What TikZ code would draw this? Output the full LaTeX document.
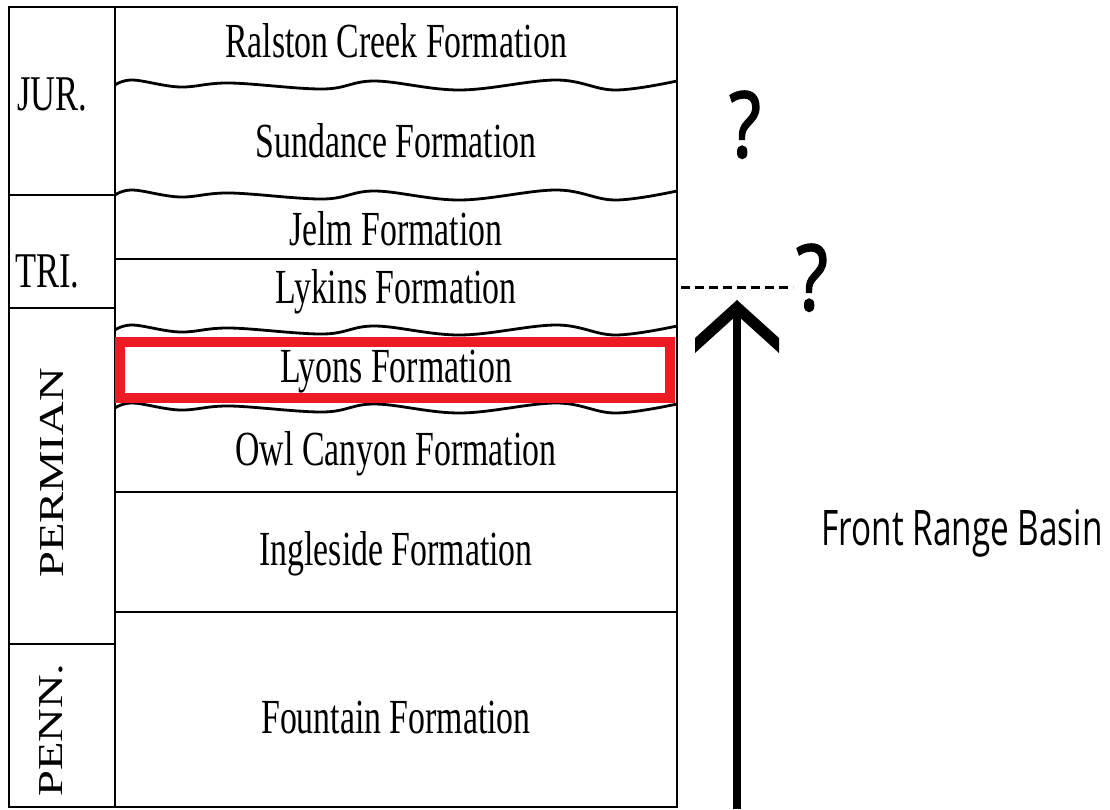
\documentclass[tikz,border=0pt]{standalone}
\usepackage{fontspec}
\newfontfamily\fmfont[FakeStretch=0.69]{Liberation Serif}
\newfontfamily\vertfont[FakeStretch=1.33]{Liberation Serif}
\newfontfamily\basinfont[FakeStretch=0.68]{Open Sans}
\newfontfamily\queryfont[FakeStretch=0.8,FakeBold=2]{Open Sans}
\definecolor{lyonsred}{RGB}{237,28,36}

\begin{document}
\begin{tikzpicture}
    [x=1pt,y=-1pt,
    rule/.style={draw=black,line width=2.8pt},
    formation/.style={inner sep=0pt,anchor=base,
    font=\fmfont\fontsize{49}{50}\selectfont},
    period/.style={inner sep=0pt,anchor=base west,
    font=\fmfont\fontsize{50}{50}\selectfont},
    vperiod/.style={inner sep=0pt,rotate=90,
    font=\vertfont\fontsize{35}{35}\selectfont},
    query/.style={inner sep=0pt,anchor=base,
    font=\queryfont\fontsize{91}{91}\selectfont}]
    \useasboundingbox (0,0) rectangle (1110,809);
    % column frame
    \draw[rule] (9,7) rectangle (677,807);
    \draw[rule] (115,7) -- (115,807);
    \foreach \y in {195,308,644}
        \draw[rule] (9,\y) -- (115,\y);
    \foreach \y in {259,492,612}
        \draw[rule] (115,\y) -- (677,\y);
    % unconformities
    \foreach \y in {85,195,330,408}
        \draw[rule] plot[smooth,tension=0.6] coordinates {(115,\y) (133,\y-5)
        (180,\y+2) (230,\y-2) (323,\y+4) (375,\y-4) (460,\y+5) (556,\y-5)
        (615,\y+5) (677,\y-4)};
    \draw[lyonsred,line width=10pt] (120,342) rectangle (670,398);
    % formations
    \node[formation] (ralston) at (396,57) {Ralston Creek Formation};
    \node[formation] (sundance) at (396,157) {Sundance Formation};
    \node[formation] (jelm) at (396,245) {Jelm Formation};
    \node[formation] (lykins) at (396,303) {Lykins Formation};
    \node[formation] (lyons) at (396,382) {Lyons Formation};
    \node[formation] (owl canyon) at (396,465) {Owl Canyon Formation};
    \node[formation] (ingleside) at (396,565) {Ingleside Formation};
    \node[formation] (fountain) at (396,733) {Fountain Formation};
    % periods
    \node[period] (jur) at (17,110) {JUR.};
    \node[period] (tri) at (15,287) {TRI.};
    \node[vperiod] (permian) at (51.5,473) {PERMIAN};
    \node[vperiod] (penn) at (51.5,730) {PENN.};
    % basin arrow
    \coordinate (basin base) at (737,809);
    \coordinate (basin tip) at (737,300);
    \coordinate (shaft end) at (737,315);
    \draw[line width=8pt] (basin base) -- (shaft end);
    \fill (basin tip) -- ++(42,38) -- ++(0,15) -- (shaft end) -- ++(-42,38)
        -- ++(0,-15) -- cycle;
    \node[inner sep=0pt,anchor=base,font=\basinfont\fontsize{49}{50}\selectfont]
        (basin) at (962,545) {Front Range Basin};
    % questions
    \node[query] (jur query) at (745,157) {?};
    \node[query] (lykins query) at (812,310) {?};
    \coordinate (column edge) at (681,287);
    \coordinate (query end) at (793,287);
    \draw[line width=3pt,dash pattern=on 9pt off 5pt] (column edge) -- (query end);
\end{tikzpicture}
\end{document}
